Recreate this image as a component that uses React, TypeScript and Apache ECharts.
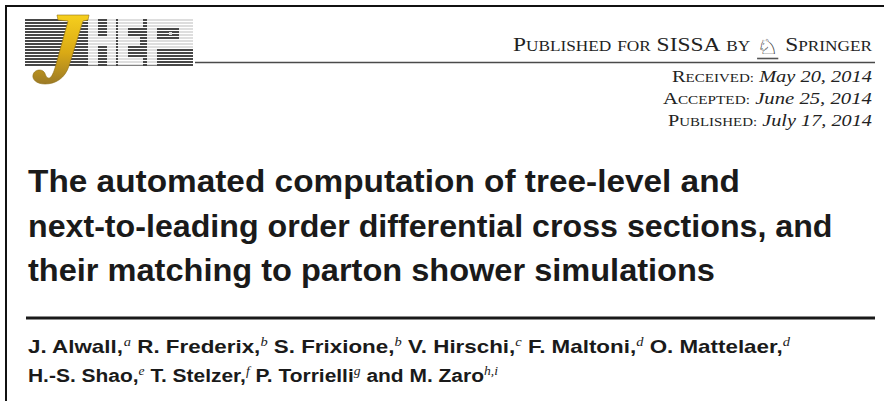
import React, { useEffect, useRef } from 'react';
import * as echarts from 'echarts';

// ---- content ----
const headerWords = ['Published for', 'SISSA', 'by'];
const publisherName = 'Springer';
const dateLabels = ['Received:', 'Accepted:', 'Published:'];
const dateValues = ['May 20, 2014', 'June 25, 2014', 'July 17, 2014'];
const titleLines = [
  'The automated computation of tree-level and',
  'next-to-leading order differential cross sections, and',
  'their matching to parton shower simulations',
];
const authorsLine1Names = ['J. Alwall,', 'R. Frederix,', 'S. Frixione,', 'V. Hirschi,', 'F. Maltoni,', 'O. Mattelaer,'];
const authorsLine1Aff = ['a', 'b', 'b', 'c', 'd', 'd'];
const authorsLine2Names = ['H.-S. Shao,', 'T. Stelzer,', 'P. Torrielli', 'and M. Zaro'];
const authorsLine2Aff = ['e', 'f', 'g', 'h,i'];

const J_PATH =
  'M 57 15 L 89 15 L 88 20 L 83 21 L 69 66 C 65 78 56 84 45 84 C 36 84 32 79 33 75 C 34 70 40 69 43 71 C 46 73 45 77 48 78 C 51 79 53 74 55 68 L 68 21 L 58 20 Z';

let registered = false;
function ensureShape() {
  if (registered) return;
  echarts.graphic.registerShape('jLogo', echarts.graphic.extendPath(J_PATH, {}) as any);
  registered = true;
}

interface Run {
  t: string;
  size: number;
  family: string;
  weight?: string;
  style?: string;
  dy?: number;
  fill?: string;
}

let ctx: CanvasRenderingContext2D | null = null;
function measure(r: Run): number {
  if (!ctx) ctx = document.createElement('canvas').getContext('2d');
  ctx!.font = `${r.style || 'normal'} ${r.weight || 'normal'} ${r.size}px "${r.family}"`;
  return ctx!.measureText(r.t).width;
}

function place(runs: Run[], x0: number, x1: number, base: number, out: any[]) {
  const widths = runs.map(measure);
  const total = widths.reduce((a, b) => a + b, 0);
  const s = (x1 - x0) / total;
  let acc = 0;
  const pos: { x: number; w: number }[] = [];
  runs.forEach((r, i) => {
    const x = x0 + acc * s;
    pos.push({ x, w: widths[i] * s });
    if (r.t.trim()) {
      out.push({
        type: 'text',
        x,
        y: base + (r.dy || 0) - 0.34 * r.size,
        scaleX: s,
        silent: true,
        style: {
          text: r.t,
          fontSize: r.size,
          fontFamily: r.family,
          fontWeight: r.weight || 'normal',
          fontStyle: r.style || 'normal',
          fill: r.fill || '#1c1c1c',
          textAlign: 'left',
          verticalAlign: 'middle',
        },
      });
    }
    acc += widths[i];
  });
  return pos;
}

const SERIF = 'Liberation Serif';
const SANS = 'Liberation Sans';

function smallCaps(text: string, big: number, small: number, fill: string): Run[] {
  const runs: Run[] = [];
  let cur: Run | null = null;
  let curCls = '';
  for (const ch of text) {
    const cls = ch === ' ' ? 'sp' : ch >= 'A' && ch <= 'Z' ? 'b' : 's';
    if (cls !== curCls || !cur) {
      cur = { t: '', size: cls === 'b' || cls === 'sp' ? big : small, family: SERIF, fill };
      runs.push(cur);
      curCls = cls;
    }
    cur.t += cls === 's' ? ch.toUpperCase() : ch;
  }
  return runs;
}

function buildElements(): any[] {
  const els: any[] = [];
  // frame
  els.push({ type: 'line', shape: { x1: 6, y1: 6, x2: 884, y2: 6 }, style: { stroke: '#111', lineWidth: 2 } });
  els.push({ type: 'line', shape: { x1: 6, y1: 5, x2: 6, y2: 401 }, style: { stroke: '#111', lineWidth: 2 } });

  // logo stripes
  const LX0 = 25, LX1 = 193, LY0 = 19, rows = 16, period = 3;
  for (let i = 0; i < rows; i++) {
    els.push({ type: 'rect', shape: { x: LX0, y: LY0 + i * period, width: LX1 - LX0, height: 2 }, style: { fill: '#474747' } });
  }
  const letterRects = [
    // H
    [88, 19, 10, 46], [107, 19, 9, 46], [98, 36, 9, 9],
    // E
    [118, 19, 10, 46], [128, 19, 15, 8], [128, 37, 12, 8], [128, 57, 15, 8],
    // P
    [147, 19, 10, 46], [157, 19, 36, 9], [157, 40, 36, 9], [179, 28, 14, 12],
  ];
  letterRects.forEach(([x, y, w, h]) => {
    els.push({ type: 'rect', shape: { x, y, width: w, height: h }, style: { fill: '#fff' } });
    for (let i = 0; i < rows; i++) {
      const ry = LY0 + i * period;
      if (ry >= y - 0.1 && ry + 1 <= y + h) {
        els.push({ type: 'rect', shape: { x, y: ry + 0.5, width: w, height: 1 }, style: { fill: '#bcbcbc' } });
      }
    }
  });
  els.push({ type: 'rect', shape: { x: 169, y: 32, width: 3, height: 3 }, style: { fill: '#ddd' } });
  // J
  els.push({
    type: 'jLogo',
    x: 0,
    y: 0,
    style: {
      fill: new echarts.graphic.LinearGradient(0, 0, 0, 1, [
        { offset: 0, color: '#f6cf1d' },
        { offset: 0.55, color: '#d9a915' },
        { offset: 1, color: '#9c7a26' },
      ]),
      stroke: '#8f7018',
      lineWidth: 0.6,
    },
  });

  // header rule
  els.push({ type: 'line', shape: { x1: 195, y1: 62.5, x2: 875, y2: 62.5 }, style: { stroke: '#4a4a4a', lineWidth: 1.3 } });

  // publisher line
  const hdrFill = '#222';
  const hdrRuns: Run[] = [];
  headerWords.forEach((w, i) => {
    if (i > 0) hdrRuns.push({ t: ' ', size: 19, family: SERIF });
    hdrRuns.push(...smallCaps(w, 19, 14, hdrFill));
  });
  hdrRuns.push({ t: ' ', size: 19, family: SERIF });
  const knightIdx = hdrRuns.length;
  hdrRuns.push({ t: '\u2658', size: 21, family: 'DejaVu Sans', dy: 3, fill: '#333' });
  hdrRuns.push({ t: ' ', size: 19, family: SERIF });
  hdrRuns.push(...smallCaps(publisherName, 19, 14, hdrFill));
  const hp = place(hdrRuns, 513, 872, 51, els);
  const kp = hp[knightIdx];
  els.push({ type: 'line', shape: { x1: kp.x + 1, y1: 58.5, x2: kp.x + kp.w - 1, y2: 58.5 }, style: { stroke: '#555', lineWidth: 1.6 } });

  // dates
  const dateStarts = [672, 663, 668];
  const dateBases = [82, 104, 126];
  dateLabels.forEach((lab, i) => {
    const runs: Run[] = [
      ...smallCaps(lab, 17, 12.5, hdrFill),
      { t: ' ', size: 17, family: SERIF },
      { t: dateValues[i], size: 17, family: SERIF, style: 'italic', fill: hdrFill },
    ];
    place(runs, dateStarts[i], 872, dateBases[i], els);
  });

  // title
  const titleEnds = [740, 833, 715];
  const titleBases = [192, 237, 281];
  titleLines.forEach((t, i) => {
    place([{ t, size: 32, family: SANS, weight: 'bold', fill: '#1a1a1a' }], 28, titleEnds[i], titleBases[i], els);
  });

  // thick rule
  els.push({ type: 'rect', shape: { x: 26, y: 316.5, width: 849, height: 3 }, style: { fill: '#1a1a1a' } });

  // authors
  const authorRuns = (names: string[], affs: string[]): Run[] => {
    const runs: Run[] = [];
    names.forEach((n, i) => {
      if (i > 0) runs.push({ t: ' ', size: 18.5, family: SANS, weight: 'bold' });
      runs.push({ t: n, size: 18.5, family: SANS, weight: 'bold', fill: '#1a1a1a' });
      runs.push({ t: affs[i], size: 12, family: SERIF, style: 'italic', dy: -7, fill: '#1a1a1a' });
    });
    return runs;
  };
  place(authorRuns(authorsLine1Names, authorsLine1Aff), 28, 790, 353, els);
  place(authorRuns(authorsLine2Names, authorsLine2Aff), 28, 498, 382, els);

  return els;
}

export default function App() {
  const ref = useRef<HTMLDivElement>(null);
  useEffect(() => {
    if (!ref.current) return;
    ensureShape();
    const chart = echarts.init(ref.current, undefined, { renderer: 'svg' });
    chart.setOption({
      animation: false,
      backgroundColor: '#ffffff',
      graphic: { elements: buildElements() },
    });
    return () => chart.dispose();
  }, []);
  return (
    <div
      ref={ref}
      style={{ position: 'fixed', left: 0, top: 0, width: 884, height: 401, background: '#fff' }}
    />
  );
}
